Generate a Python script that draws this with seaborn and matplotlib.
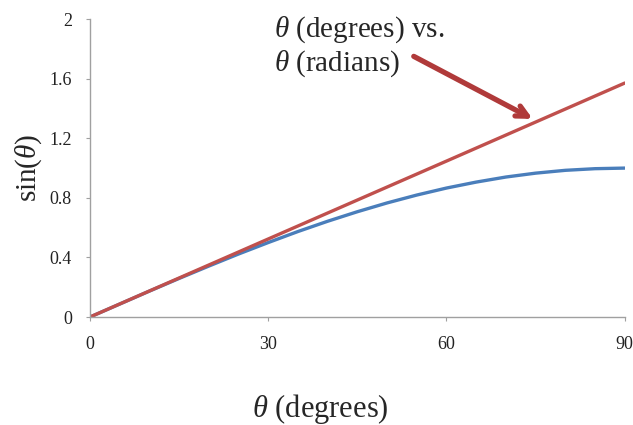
import matplotlib
matplotlib.use('Agg')
import matplotlib.pyplot as plt
import seaborn as sns
import pandas as pd

# values
degrees = [0, 5, 10, 15, 20, 25, 30, 35, 40, 45, 50, 55, 60, 65, 70, 75, 80, 85, 90]
sin_vals = [0, 0.087, 0.174, 0.259, 0.342, 0.423, 0.5, 0.574, 0.643, 0.707,
            0.766, 0.819, 0.866, 0.906, 0.94, 0.966, 0.985, 0.996, 1.0]
rad_deg = [0, 30, 60, 90]
rad_vals = [0, 0.524, 1.047, 1.571]
x_ticks = [0, 30, 60, 90]
y_ticks = [0, 0.4, 0.8, 1.2, 1.6, 2]
y_tick_labels = ['0', '0.4', '0.8', '1.2', '1.6', '2']

df_sin = pd.DataFrame({'deg': degrees, 'val': sin_vals})
df_rad = pd.DataFrame({'deg': rad_deg, 'val': rad_vals})

sns.set_style('ticks')
plt.rcParams['font.family'] = ['Liberation Serif', 'DejaVu Serif']
plt.rcParams['mathtext.fontset'] = 'custom'
plt.rcParams['mathtext.rm'] = 'Liberation Serif'
plt.rcParams['mathtext.it'] = 'Liberation Serif:italic'

fig = plt.figure(figsize=(6.33, 4.25), dpi=100)
ax = fig.add_axes([0.142, 0.254, 0.845, 0.701])

sns.lineplot(data=df_sin, x='deg', y='val', color='#4A7EBB', linewidth=2.4, ax=ax)
sns.lineplot(data=df_rad, x='deg', y='val', color='#C0504D', linewidth=2.4, ax=ax)

ax.set_xlim(0, 90)
ax.set_ylim(0, 2)
ax.set_xticks(x_ticks)
ax.set_yticks(y_ticks)
ax.set_yticklabels(y_tick_labels)
ax.tick_params(axis='x', length=3, pad=11, labelsize=13, color='#A0A0A0', labelcolor='#222222')
ax.tick_params(axis='y', length=3, pad=10, labelsize=13, color='#A0A0A0', labelcolor='#222222')
for s in ['top', 'right']:
    ax.spines[s].set_visible(False)
for s in ['left', 'bottom']:
    ax.spines[s].set_color('#A0A0A0')
    ax.spines[s].set_linewidth(1.0)

ax.set_xlabel(r'$\theta$ (degrees)', fontsize=22)
ax.xaxis.set_label_coords(0.43, -0.31)
ax.xaxis.label.set_va('center')
ax.set_ylabel(r'sin($\theta$)', fontsize=21, labelpad=4)

ax.text(31, 2.03, r'$\theta$ (degrees) vs.' + '\n' + r'$\theta$ (radians)',
        fontsize=21, va='top', ha='left', linespacing=1.15, clip_on=False)
ax.annotate('', xy=(74.5, 1.33), xytext=(54.5, 1.75),
            arrowprops=dict(arrowstyle='->,head_length=0.8,head_width=0.4',
                            color='#B03A3A', lw=3.8, shrinkA=0, shrinkB=0),
            annotation_clip=False)

fig.savefig('out.png', dpi=100)
